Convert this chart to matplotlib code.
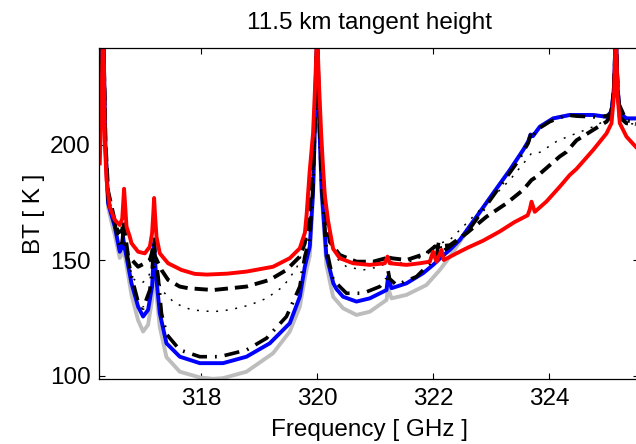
import matplotlib
matplotlib.use("Agg")
import matplotlib.pyplot as plt

plt.rcParams['font.family'] = ['Liberation Sans', 'DejaVu Sans']

title = "11.5 km tangent height"
xlabel = "Frequency [ GHz ]"
ylabel = "BT [ K ]"
xticks = [318, 320, 322, 324]
yticks = [100, 150, 200]

# (frequency GHz, brightness temperature K)
grey_pts = [(316.253,205),(316.28,225),(316.30,245),(316.31,250),(316.325,235),(316.35,200),(316.397,173),(316.45,167),(316.512,161),(316.598,151),(316.64,153),(316.655,157),(316.67,154),(316.714,148),(316.8,135),(316.914,124),(317.0,119.1),(317.086,122),(317.155,133),(317.175,143),(317.19,152),(317.205,145),(317.231,135),(317.288,121),(317.403,108),(317.633,101.7),(317.978,99.2),(318.207,98.6),(318.379,98.9),(318.783,101.7),(319.241,109.7),(319.529,119.1),(319.702,129.9),(319.805,144.4),(319.874,152),(319.93,178),(319.97,215),(320.0,250),(320.03,215),(320.08,178),(320.16,148),(320.276,134.2),(320.448,129.2),(320.679,126.3),(320.909,127.7),(321.197,132.8),(321.224,137.9),(321.283,133.5),(321.541,135.0),(321.886,139.3),(322.116,145.8),(322.288,151.5),(322.46,158.0),(322.748,168.5),(323.034,179.0),(323.322,189.1),(323.552,197.8),(323.64,201.5),(323.68,204.5),(323.72,203.8),(323.84,207.9),(324.069,211.5),(324.357,213.0),(324.759,213.0),(324.99,212.2),(325.076,214.4),(325.12,225),(325.14,242),(325.15,250),(325.16,242),(325.18,225),(325.219,213.7),(325.334,211.5),(325.494,211.5)]

blue_pts = [(316.253,205),(316.28,225),(316.30,245),(316.31,250),(316.325,235),(316.35,200),(316.397,174.7),(316.45,170),(316.512,164.6),(316.598,153.7),(316.64,156),(316.655,160.2),(316.67,157),(316.714,151.6),(316.8,140.0),(316.914,129.9),(317.0,125.6),(317.086,128.5),(317.155,138.6),(317.175,148),(317.19,157.4),(317.205,150),(317.231,141.5),(317.288,127.0),(317.403,114.0),(317.633,108.2),(317.978,105.4),(318.379,105.4),(318.783,108.2),(319.184,114.0),(319.529,122.7),(319.702,134.2),(319.788,147.2),(319.874,156),(319.93,180),(319.97,215),(320.0,250),(320.03,215),(320.08,180),(320.16,152),(320.28,140.0),(320.334,137.5),(320.448,134.2),(320.679,132.1),(320.909,133.5),(321.197,137.1),(321.224,142.9),(321.283,137.9),(321.541,140.0),(321.828,144.4),(322.0,148.0),(322.172,152),(322.288,154.5),(322.46,158.8),(322.748,168.9),(323.034,179.0),(323.322,189.1),(323.552,197.8),(323.64,201.5),(323.68,204.5),(323.72,203.8),(323.84,207.9),(324.069,211.5),(324.357,213.0),(324.759,213.0),(324.99,212.2),(325.076,214.4),(325.12,225),(325.14,242),(325.15,250),(325.16,242),(325.18,225),(325.219,213.7),(325.334,211.5),(325.494,211.5)]

dashdot_pts = [(316.253,205),(316.28,225),(316.30,245),(316.31,250),(316.325,235),(316.35,200),(316.397,176),(316.512,166),(316.598,155.2),(316.64,158),(316.655,162),(316.67,159),(316.714,154),(316.8,143),(316.914,132),(317.0,129.2),(317.116,137.1),(317.155,145),(317.175,153),(317.19,160.2),(317.21,152),(317.259,142.9),(317.317,127.0),(317.403,118),(317.633,111.1),(317.978,108.2),(318.322,108.2),(318.783,111.1),(319.128,116.2),(319.472,125.6),(319.702,138.6),(319.788,151.6),(319.874,160),(319.93,182),(319.97,215),(320.0,250),(320.03,215),(320.08,182),(320.16,155),(320.276,141.5),(320.507,135.7),(320.793,135.7),(321.081,138.6),(321.2,142),(321.224,145.5),(321.25,142),(321.369,139.3),(321.714,142.9),(321.943,148.7),(322.06,152),(322.1,158.5),(322.14,153.5),(322.288,155.9),(322.576,161.7),(322.862,171.8),(323.15,181.9),(323.438,192.0),(323.638,200.7),(323.697,205.7),(323.72,204),(323.783,206.5),(324.012,210.1),(324.3,213.0),(324.472,212.5),(324.874,212),(325.047,213),(325.1,218),(325.13,232),(325.15,250),(325.17,232),(325.2,218),(325.334,210.5),(325.494,210)]

dotted_pts = [(316.253,205),(316.28,225),(316.30,245),(316.31,250),(316.325,235),(316.35,200),(316.397,178),(316.512,168),(316.598,160),(316.655,164),(316.714,152),(316.828,142),(316.886,141),(317.0,140.5),(317.086,142.5),(317.14,146),(317.172,151.6),(317.2,147),(317.317,137.1),(317.547,131.4),(317.834,128.5),(318.207,127.7),(318.495,128.5),(318.84,130.6),(319.128,133.5),(319.414,138.6),(319.645,146.5),(319.759,154.5),(319.874,168),(319.93,188),(319.97,220),(320.0,250),(320.03,220),(320.08,188),(320.16,166),(320.334,150.9),(320.507,147.2),(320.793,145.8),(321.081,147.2),(321.224,149.4),(321.426,148.7),(321.714,150.1),(321.943,154.5),(322.029,156.6),(322.288,158.8),(322.633,167.5),(322.978,176.1),(323.322,184.8),(323.581,192.7),(323.697,196.4),(323.84,196.8),(324.128,201.5),(324.357,204),(324.472,205),(324.759,207.9),(324.99,210.8),(325.076,213),(325.12,225),(325.15,250),(325.18,225),(325.219,212),(325.334,209.4),(325.494,209)]

dashed_pts = [(316.253,205),(316.28,225),(316.30,245),(316.31,250),(316.325,235),(316.35,202),(316.397,180),(316.512,167),(316.569,162),(316.64,163),(316.66,167),(316.68,163),(316.741,152),(316.914,147.2),(317.029,148.7),(317.116,150.1),(317.15,153),(317.172,156),(317.2,152),(317.317,145.8),(317.431,141.5),(317.633,138.6),(317.776,137.9),(318.207,137.1),(318.783,138.6),(319.184,141.5),(319.472,145.8),(319.702,151.6),(319.788,157.4),(319.874,172),(319.93,192),(319.97,222),(320.0,250),(320.03,222),(320.08,192),(320.16,168),(320.219,158),(320.391,152.3),(320.679,149.4),(320.966,149.4),(321.2,151),(321.224,152.5),(321.25,151),(321.541,150.1),(321.886,153.0),(322.029,155.9),(322.288,156.5),(322.576,161.7),(322.921,168.9),(323.266,174.7),(323.552,180.5),(323.697,184.8),(323.783,186.2),(324.069,192.5),(324.184,195),(324.3,197),(324.472,202),(324.759,206.5),(324.99,210.1),(325.076,213),(325.12,225),(325.15,250),(325.18,225),(325.219,212),(325.334,209.4),(325.494,209)]

red_pts = [(316.253,192),(316.28,215),(316.30,240),(316.31,250),(316.325,235),(316.34,202),(316.369,185),(316.426,173),(316.512,167.5),(316.598,165.3),(316.64,168),(316.66,176),(316.672,181),(316.685,176),(316.714,164.6),(316.771,160.2),(316.8,157.4),(316.914,153.7),(317.029,153.0),(317.116,155.9),(317.155,161.7),(317.175,170),(317.19,177),(317.205,170),(317.231,160.2),(317.288,153.0),(317.431,148.7),(317.662,145.8),(317.891,144.1),(318.1,143.8),(318.45,144.2),(318.783,145.1),(319.241,147.2),(319.529,150.9),(319.702,155.2),(319.79,162),(319.82,170),(319.87,188),(319.93,205),(319.97,228),(320.0,250),(320.03,228),(320.07,205),(320.103,190),(320.133,178),(320.19,167),(320.276,155),(320.391,150.9),(320.621,148.7),(320.909,148.0),(321.167,148.7),(321.214,151.6),(321.253,148.7),(321.541,148.0),(321.771,148.7),(321.943,149.4),(322.0,153.7),(322.059,149.4),(322.145,154.5),(322.184,150.1),(322.403,153.0),(322.6,155.5),(322.862,158.5),(323.15,162.5),(323.4,166.5),(323.63,169.5),(323.667,172),(323.697,175.4),(323.753,171),(323.955,175.5),(324.184,181.9),(324.357,187.0),(324.472,189.6),(324.759,197.8),(324.99,205.0),(325.076,209.4),(325.12,222),(325.14,240),(325.15,250),(325.16,240),(325.18,222),(325.219,209.4),(325.334,203.6),(325.494,199.2)]

fig = plt.figure(figsize=(6.36, 4.44), dpi=100)
ax = fig.add_axes([99.3/636, (444-379.3)/444, 539.7/636, 331.0/444])

def draw(pts, **kw):
    x = [p[0] for p in pts]
    y = [p[1] for p in pts]
    ax.plot(x, y, solid_joinstyle='round', dash_joinstyle='round', **kw)

draw(grey_pts, color=(0.74, 0.74, 0.74), lw=2.8)
draw(blue_pts, color=(0, 0, 1), lw=2.8)
draw(dashdot_pts, color='black', lw=2.6, dashes=(4.2, 2.2, 0.5, 2.2))
draw(dotted_pts, color='black', lw=1.1, dashes=(1.3, 5.0))
draw(dashed_pts, color='black', lw=2.8, dashes=(3.4, 1.8))
draw(red_pts, color=(1, 0, 0), lw=2.8)

ax.set_xlim(316.245, 325.55)
ax.set_ylim(98.4, 241.9)
ax.set_xticks(xticks)
ax.set_yticks(yticks)
ax.tick_params(direction='in', length=4, width=0.8, labelsize=17.5,
               top=True, right=True, pad=6)
for s in ax.spines.values():
    s.set_linewidth(0.9)
ax.set_title(title, fontsize=17.5, pad=14)
ax.set_xlabel(xlabel, fontsize=17.5, labelpad=7)
ax.set_ylabel(ylabel, fontsize=17.5, labelpad=4)

fig.savefig("out.png", dpi=100)
